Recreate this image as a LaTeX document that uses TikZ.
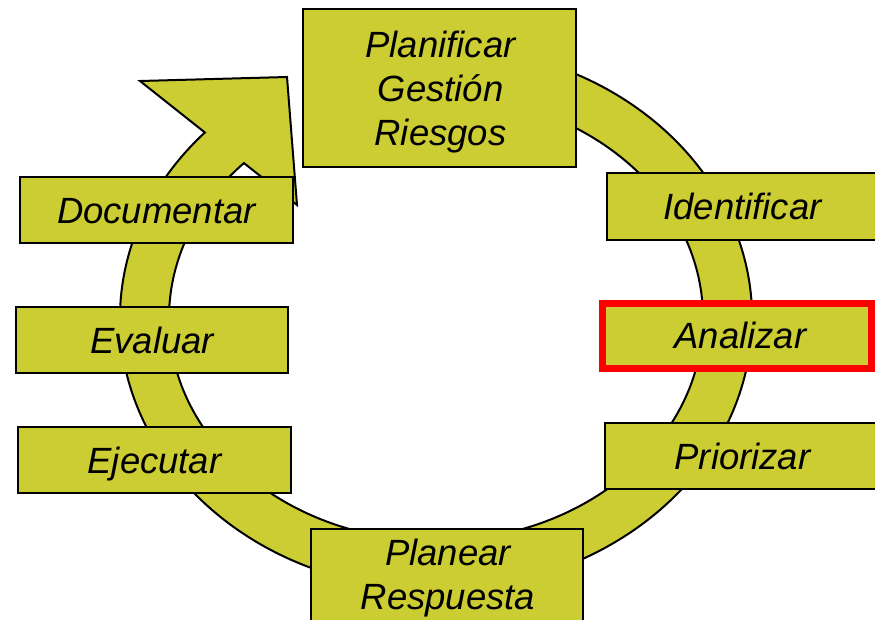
\documentclass[tikz,border=0pt]{standalone}
\usepackage{fontspec}
\setmainfont{Liberation Sans}
\definecolor{stepfill}{RGB}{204,204,51}
\definecolor{hilite}{RGB}{255,0,0}
\begin{document}
\begin{tikzpicture}[x=1pt,y=-1pt,
  stepbox/.style={rectangle, draw=black, line width=2pt, fill=stepfill,
    inner sep=0pt, font=\itshape\fontsize{36.5}{44}\selectfont,
    text height=26.2pt, text depth=0pt},
  steptext/.style={inner sep=0pt, align=center,
    font=\itshape\fontsize{36.5}{44}\selectfont},
  ring/.style={fill=stepfill, draw=black, line width=2pt, line join=miter}]
\useasboundingbox (0,0) rectangle (875,619);
\clip (0,0) rectangle (875,619);

% circular arrow: outer arc clockwise, arrowhead, inner arc back
\path[ring] (436,318) ++(-80:316 and 272)
  arc[start angle=-80, end angle=223, x radius=316, y radius=272]
  -- (140,81) -- (287,77) -- (297,205)
  -- ({436+267*cos(224)},{318+223*sin(224)})
  arc[start angle=224, end angle=-80, x radius=267, y radius=223]
  -- cycle;

% process steps
\node[stepbox, minimum width=273, minimum height=158] (plan) at (439.5,88) {};
\node[steptext] (plantext) at (440.5,92.5) {Planificar\\Gestión\\Riesgos};
\node[stepbox, minimum width=271, minimum height=67] (ident) at (742.5,206.5) {Identificar};
\node[stepbox, draw=hilite, line width=7pt, minimum width=269, minimum height=65] (anal) at (736.5,335.5) {};
\node[steptext] (analtext) at (740.5,335.5) {Analizar};
\node[stepbox, minimum width=275, minimum height=66] (prio) at (742.5,456) {Priorizar};
\node[stepbox, minimum width=272, minimum height=121] (resp) at (447,589.5) {};
\node[steptext] (resptext) at (448,578) {Planear\\Respuesta};
\node[stepbox, minimum width=273, minimum height=66] (ejec) at (154.5,460) {Ejecutar};
\node[stepbox, minimum width=272, minimum height=66] (eval) at (152,340) {Evaluar};
\node[stepbox, minimum width=273, minimum height=66] (docu) at (156.5,210) {Documentar};
\end{tikzpicture}
\end{document}
